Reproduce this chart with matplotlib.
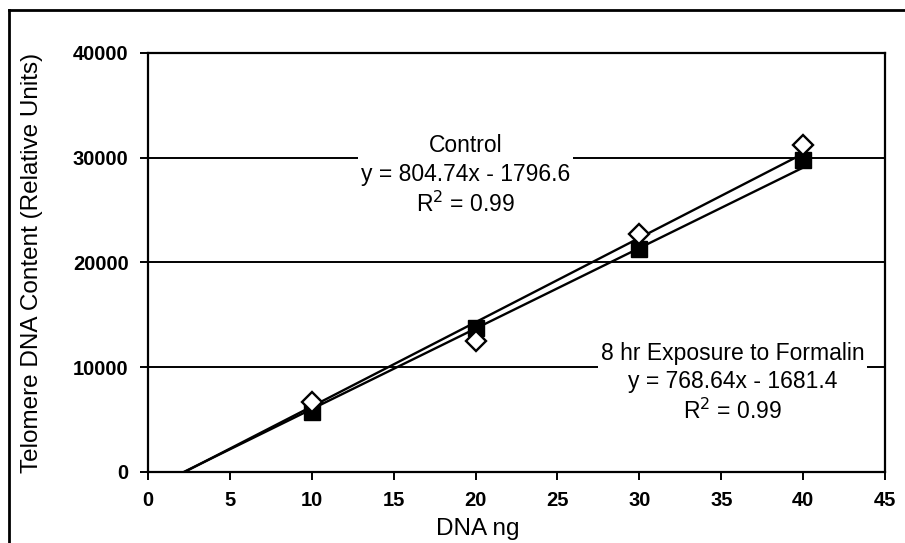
import matplotlib

matplotlib.use("Agg")
import matplotlib.pyplot as plt
import numpy as np
from matplotlib.lines import Line2D

plt.rcParams["font.family"] = ["Liberation Sans", "DejaVu Sans"]

# values
dna_ng = [10, 20, 30, 40]
control = [6700, 12500, 22700, 31200]
formalin = [5700, 13700, 21300, 29800]

# trend line coefficients as printed on the chart
control_fit = (804.74, -1796.6)
formalin_fit = (768.64, -1681.4)
trend_x = np.array([1.5, 40])

x_ticks = list(range(0, 50, 5))
y_ticks = [0, 10000, 20000, 30000, 40000]

fig = plt.figure(figsize=(9.05, 5.43), dpi=100)
ax = fig.add_axes([0.1635, 0.1308, 0.8145, 0.7716])

for y in y_ticks[1:-1]:
    ax.axhline(y, color="black", linewidth=1.4, zorder=1)

for slope, icpt in (control_fit, formalin_fit):
    ax.plot(trend_x, slope * trend_x + icpt, color="black", linewidth=1.7, zorder=3)

ax.plot(dna_ng, formalin, linestyle="none", marker="s", markersize=12,
        markerfacecolor="black", markeredgecolor="black", zorder=4)
ax.plot(dna_ng, control, linestyle="none", marker="D", markersize=10.5,
        markerfacecolor="white", markeredgecolor="black", markeredgewidth=1.7, zorder=5)

ax.text(19.4, 28300, "Control\ny = 804.74x - 1796.6\nR$^2$ = 0.99", ha="center", va="center",
        fontsize=16.5, linespacing=1.3, zorder=2,
        bbox=dict(facecolor="white", edgecolor="none", pad=2))
ax.text(35.7, 8500, "8 hr Exposure to Formalin\ny = 768.64x - 1681.4\nR$^2$ = 0.99", ha="center",
        va="center", fontsize=16.5, linespacing=1.3, zorder=2,
        bbox=dict(facecolor="white", edgecolor="none", pad=2))

ax.set_xlim(0, 45)
ax.set_ylim(0, 40000)
ax.set_xticks(x_ticks)
ax.set_yticks(y_ticks)
ax.tick_params(direction="out", length=6, width=1.4, labelsize=14.5, pad=8, color="black")
for lbl in ax.get_xticklabels() + ax.get_yticklabels():
    lbl.set_fontweight("bold")
for side in ("left", "right", "top", "bottom"):
    ax.spines[side].set_linewidth(1.6)

ax.set_xlabel("DNA ng", fontsize=17.5)
ax.xaxis.set_label_coords(0.448, -0.11)
ax.set_ylabel("Telomere DNA Content (Relative Units)", fontsize=17.5)
ax.yaxis.set_label_coords(-0.142, 0.5)

# outer frame of the scanned figure (cut at right and bottom)
fig.add_artist(Line2D([9 / 905, 9 / 905], [0, 1 - 10 / 543], transform=fig.transFigure,
                      color="black", linewidth=2))
fig.add_artist(Line2D([9 / 905, 1], [1 - 10 / 543, 1 - 10 / 543], transform=fig.transFigure,
                      color="black", linewidth=2))

fig.savefig("out.png", dpi=100, facecolor="white")
